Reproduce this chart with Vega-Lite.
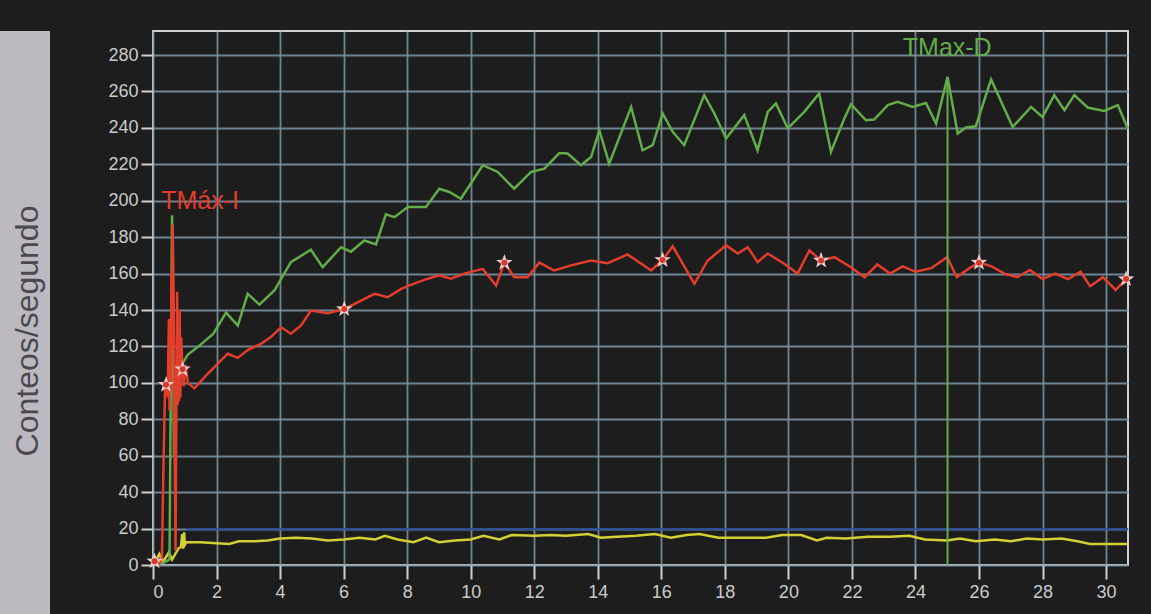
{
  "$schema": "https://vega.github.io/schema/vega-lite/v6.json",
  "background": "#1c1d1c",
  "padding": {"left": 0, "top": 0, "right": 15, "bottom": 0},
  "spacing": 0,
  "config": {"font": "Liberation Sans", "concat": {"spacing": 0}, "axis": {"labelOverlap": false}},
  "datasets": {
    "umbral": [
      {"t": 1.05, "cps": 19.6, "serie": "Umbral"},
      {"t": 30.69, "cps": 19.6, "serie": "Umbral"}
    ],
    "fondo": [
      {"t": 0.0, "cps": 1, "serie": "Fondo"}, {"t": 0.1, "cps": 3, "serie": "Fondo"}, {"t": 0.2, "cps": 6, "serie": "Fondo"},
      {"t": 0.3, "cps": 2, "serie": "Fondo"}, {"t": 0.4, "cps": 4, "serie": "Fondo"}, {"t": 0.5, "cps": 7, "serie": "Fondo"},
      {"t": 0.6, "cps": 3, "serie": "Fondo"}, {"t": 0.7, "cps": 6, "serie": "Fondo"}, {"t": 0.8, "cps": 9, "serie": "Fondo"},
      {"t": 0.88, "cps": 10, "serie": "Fondo"}, {"t": 0.92, "cps": 17, "serie": "Fondo"}, {"t": 0.95, "cps": 9, "serie": "Fondo"},
      {"t": 0.98, "cps": 18, "serie": "Fondo"}, {"t": 1.0, "cps": 11, "serie": "Fondo"}, {"t": 1.05, "cps": 12.5, "serie": "Fondo"},
      {"t": 1.5, "cps": 12.5, "serie": "Fondo"}, {"t": 2.0, "cps": 12, "serie": "Fondo"}, {"t": 2.4, "cps": 11.5, "serie": "Fondo"},
      {"t": 2.7, "cps": 13, "serie": "Fondo"}, {"t": 3.2, "cps": 13, "serie": "Fondo"}, {"t": 3.6, "cps": 13.5, "serie": "Fondo"},
      {"t": 4.0, "cps": 14.5, "serie": "Fondo"}, {"t": 4.5, "cps": 15, "serie": "Fondo"}, {"t": 5.0, "cps": 14.5, "serie": "Fondo"},
      {"t": 5.5, "cps": 13.5, "serie": "Fondo"}, {"t": 6.0, "cps": 14, "serie": "Fondo"}, {"t": 6.5, "cps": 15, "serie": "Fondo"},
      {"t": 7.0, "cps": 14, "serie": "Fondo"}, {"t": 7.3, "cps": 16, "serie": "Fondo"}, {"t": 7.7, "cps": 14, "serie": "Fondo"},
      {"t": 8.2, "cps": 12.5, "serie": "Fondo"}, {"t": 8.6, "cps": 15, "serie": "Fondo"}, {"t": 9.0, "cps": 12.5, "serie": "Fondo"},
      {"t": 9.5, "cps": 13.5, "serie": "Fondo"}, {"t": 10.0, "cps": 14, "serie": "Fondo"}, {"t": 10.4, "cps": 16, "serie": "Fondo"},
      {"t": 10.9, "cps": 14, "serie": "Fondo"}, {"t": 11.3, "cps": 16.5, "serie": "Fondo"}, {"t": 12.0, "cps": 16, "serie": "Fondo"},
      {"t": 12.5, "cps": 16.5, "serie": "Fondo"}, {"t": 13.0, "cps": 16, "serie": "Fondo"}, {"t": 13.7, "cps": 17, "serie": "Fondo"},
      {"t": 14.1, "cps": 15, "serie": "Fondo"}, {"t": 14.6, "cps": 15.5, "serie": "Fondo"}, {"t": 15.2, "cps": 16, "serie": "Fondo"},
      {"t": 15.8, "cps": 17, "serie": "Fondo"}, {"t": 16.3, "cps": 15, "serie": "Fondo"}, {"t": 16.8, "cps": 16.5, "serie": "Fondo"},
      {"t": 17.2, "cps": 17, "serie": "Fondo"}, {"t": 17.8, "cps": 15, "serie": "Fondo"}, {"t": 18.5, "cps": 15, "serie": "Fondo"},
      {"t": 19.3, "cps": 15, "serie": "Fondo"}, {"t": 19.8, "cps": 16.5, "serie": "Fondo"}, {"t": 20.4, "cps": 16.5, "serie": "Fondo"},
      {"t": 20.9, "cps": 13.5, "serie": "Fondo"}, {"t": 21.2, "cps": 15, "serie": "Fondo"}, {"t": 21.8, "cps": 14.5, "serie": "Fondo"},
      {"t": 22.5, "cps": 15.5, "serie": "Fondo"}, {"t": 23.2, "cps": 15.5, "serie": "Fondo"}, {"t": 23.8, "cps": 16, "serie": "Fondo"},
      {"t": 24.3, "cps": 14, "serie": "Fondo"}, {"t": 25.0, "cps": 13.5, "serie": "Fondo"}, {"t": 25.4, "cps": 14.5, "serie": "Fondo"},
      {"t": 25.9, "cps": 13, "serie": "Fondo"}, {"t": 26.5, "cps": 14, "serie": "Fondo"}, {"t": 27.0, "cps": 13, "serie": "Fondo"},
      {"t": 27.5, "cps": 14.5, "serie": "Fondo"}, {"t": 28.0, "cps": 14, "serie": "Fondo"}, {"t": 28.6, "cps": 14.5, "serie": "Fondo"},
      {"t": 29.1, "cps": 13, "serie": "Fondo"}, {"t": 29.5, "cps": 11.5, "serie": "Fondo"}, {"t": 30.0, "cps": 11.5, "serie": "Fondo"},
      {"t": 30.69, "cps": 11.5, "serie": "Fondo"}
    ],
    "derecho": [
      {"t": 0.0, "cps": 1, "serie": "Derecho"}, {"t": 0.3, "cps": 1, "serie": "Derecho"}, {"t": 0.52, "cps": 3, "serie": "Derecho"},
      {"t": 0.6, "cps": 192, "serie": "Derecho"}, {"t": 0.66, "cps": 60, "serie": "Derecho"}, {"t": 0.72, "cps": 100, "serie": "Derecho"},
      {"t": 0.8, "cps": 118, "serie": "Derecho"}, {"t": 0.9, "cps": 110, "serie": "Derecho"}, {"t": 1.1, "cps": 115.5, "serie": "Derecho"},
      {"t": 1.5, "cps": 121, "serie": "Derecho"}, {"t": 1.9, "cps": 127, "serie": "Derecho"}, {"t": 2.3, "cps": 138.6, "serie": "Derecho"},
      {"t": 2.67, "cps": 131.5, "serie": "Derecho"}, {"t": 2.98, "cps": 148.9, "serie": "Derecho"}, {"t": 3.35, "cps": 143, "serie": "Derecho"},
      {"t": 3.82, "cps": 150.7, "serie": "Derecho"}, {"t": 4.34, "cps": 166.3, "serie": "Derecho"}, {"t": 4.97, "cps": 173.1, "serie": "Derecho"},
      {"t": 5.34, "cps": 163.5, "serie": "Derecho"}, {"t": 5.92, "cps": 174.5, "serie": "Derecho"}, {"t": 6.23, "cps": 172, "serie": "Derecho"},
      {"t": 6.65, "cps": 178.2, "serie": "Derecho"}, {"t": 7.02, "cps": 176, "serie": "Derecho"}, {"t": 7.33, "cps": 192.5, "serie": "Derecho"},
      {"t": 7.6, "cps": 191, "serie": "Derecho"}, {"t": 8.02, "cps": 196.5, "serie": "Derecho"}, {"t": 8.59, "cps": 196.5, "serie": "Derecho"},
      {"t": 9.01, "cps": 206.6, "serie": "Derecho"}, {"t": 9.33, "cps": 204.8, "serie": "Derecho"}, {"t": 9.69, "cps": 201.1, "serie": "Derecho"},
      {"t": 10.38, "cps": 219.5, "serie": "Derecho"}, {"t": 10.85, "cps": 215.8, "serie": "Derecho"}, {"t": 11.37, "cps": 206.6, "serie": "Derecho"},
      {"t": 11.9, "cps": 215.8, "serie": "Derecho"}, {"t": 12.32, "cps": 217.6, "serie": "Derecho"}, {"t": 12.79, "cps": 226.2, "serie": "Derecho"},
      {"t": 13.05, "cps": 225.9, "serie": "Derecho"}, {"t": 13.47, "cps": 219.5, "serie": "Derecho"}, {"t": 13.79, "cps": 224, "serie": "Derecho"},
      {"t": 14.05, "cps": 238.7, "serie": "Derecho"}, {"t": 14.36, "cps": 220.4, "serie": "Derecho"}, {"t": 15.05, "cps": 251.5, "serie": "Derecho"},
      {"t": 15.41, "cps": 227.7, "serie": "Derecho"}, {"t": 15.73, "cps": 230.5, "serie": "Derecho"}, {"t": 16.04, "cps": 247.9, "serie": "Derecho"},
      {"t": 16.36, "cps": 237.8, "serie": "Derecho"}, {"t": 16.72, "cps": 230.5, "serie": "Derecho"}, {"t": 17.35, "cps": 258, "serie": "Derecho"},
      {"t": 17.67, "cps": 247.9, "serie": "Derecho"}, {"t": 18.04, "cps": 234.2, "serie": "Derecho"}, {"t": 18.61, "cps": 247, "serie": "Derecho"},
      {"t": 19.03, "cps": 227.7, "serie": "Derecho"}, {"t": 19.35, "cps": 248.8, "serie": "Derecho"}, {"t": 19.61, "cps": 253.4, "serie": "Derecho"},
      {"t": 19.98, "cps": 239.7, "serie": "Derecho"}, {"t": 20.5, "cps": 248.8, "serie": "Derecho"}, {"t": 20.97, "cps": 258.9, "serie": "Derecho"},
      {"t": 21.34, "cps": 226.8, "serie": "Derecho"}, {"t": 21.76, "cps": 245.2, "serie": "Derecho"}, {"t": 21.97, "cps": 253, "serie": "Derecho"},
      {"t": 22.44, "cps": 244.2, "serie": "Derecho"}, {"t": 22.7, "cps": 244.6, "serie": "Derecho"}, {"t": 23.13, "cps": 252.5, "serie": "Derecho"},
      {"t": 23.44, "cps": 254.3, "serie": "Derecho"}, {"t": 23.91, "cps": 251.5, "serie": "Derecho"}, {"t": 24.33, "cps": 253.7, "serie": "Derecho"},
      {"t": 24.65, "cps": 242.4, "serie": "Derecho"}, {"t": 25.01, "cps": 268, "serie": "Derecho"}, {"t": 25.33, "cps": 236.9, "serie": "Derecho"},
      {"t": 25.59, "cps": 240.2, "serie": "Derecho"}, {"t": 25.9, "cps": 240.9, "serie": "Derecho"}, {"t": 26.38, "cps": 266.6, "serie": "Derecho"},
      {"t": 27.06, "cps": 240.5, "serie": "Derecho"}, {"t": 27.64, "cps": 251.5, "serie": "Derecho"}, {"t": 28.0, "cps": 246, "serie": "Derecho"},
      {"t": 28.37, "cps": 258, "serie": "Derecho"}, {"t": 28.69, "cps": 249.7, "serie": "Derecho"}, {"t": 29.0, "cps": 258, "serie": "Derecho"},
      {"t": 29.42, "cps": 251.2, "serie": "Derecho"}, {"t": 29.94, "cps": 249.3, "serie": "Derecho"}, {"t": 30.37, "cps": 252.5, "serie": "Derecho"},
      {"t": 30.68, "cps": 239.7, "serie": "Derecho"}
    ],
    "izquierdo": [
      {"t": 0.0, "cps": 2, "serie": "Izquierdo"}, {"t": 0.1, "cps": 3, "serie": "Izquierdo"}, {"t": 0.2, "cps": 1, "serie": "Izquierdo"},
      {"t": 0.28, "cps": 4, "serie": "Izquierdo"}, {"t": 0.33, "cps": 55, "serie": "Izquierdo"}, {"t": 0.38, "cps": 98, "serie": "Izquierdo"},
      {"t": 0.42, "cps": 100, "serie": "Izquierdo"}, {"t": 0.46, "cps": 92, "serie": "Izquierdo"}, {"t": 0.5, "cps": 135, "serie": "Izquierdo"},
      {"t": 0.52, "cps": 85, "serie": "Izquierdo"}, {"t": 0.54, "cps": 120, "serie": "Izquierdo"}, {"t": 0.56, "cps": 95, "serie": "Izquierdo"},
      {"t": 0.58, "cps": 160, "serie": "Izquierdo"}, {"t": 0.6, "cps": 120, "serie": "Izquierdo"}, {"t": 0.62, "cps": 187, "serie": "Izquierdo"},
      {"t": 0.65, "cps": 150, "serie": "Izquierdo"}, {"t": 0.68, "cps": 60, "serie": "Izquierdo"}, {"t": 0.71, "cps": 8, "serie": "Izquierdo"},
      {"t": 0.74, "cps": 95, "serie": "Izquierdo"}, {"t": 0.76, "cps": 150, "serie": "Izquierdo"}, {"t": 0.78, "cps": 88, "serie": "Izquierdo"},
      {"t": 0.8, "cps": 130, "serie": "Izquierdo"}, {"t": 0.82, "cps": 90, "serie": "Izquierdo"},
      {"t": 0.84, "cps": 140, "serie": "Izquierdo"}, {"t": 0.86, "cps": 92, "serie": "Izquierdo"}, {"t": 0.89, "cps": 125, "serie": "Izquierdo"},
      {"t": 0.93, "cps": 107, "serie": "Izquierdo"}, {"t": 0.97, "cps": 98, "serie": "Izquierdo"}, {"t": 1.02, "cps": 110, "serie": "Izquierdo"},
      {"t": 1.1, "cps": 100, "serie": "Izquierdo"}, {"t": 1.3, "cps": 97, "serie": "Izquierdo"}, {"t": 1.51, "cps": 101, "serie": "Izquierdo"},
      {"t": 1.72, "cps": 105, "serie": "Izquierdo"}, {"t": 1.98, "cps": 109.5, "serie": "Izquierdo"}, {"t": 2.35, "cps": 116, "serie": "Izquierdo"},
      {"t": 2.67, "cps": 113.7, "serie": "Izquierdo"}, {"t": 2.98, "cps": 118, "serie": "Izquierdo"}, {"t": 3.4, "cps": 121.4, "serie": "Izquierdo"},
      {"t": 3.7, "cps": 125, "serie": "Izquierdo"}, {"t": 4.03, "cps": 130.5, "serie": "Izquierdo"}, {"t": 4.34, "cps": 127, "serie": "Izquierdo"},
      {"t": 4.66, "cps": 131.5, "serie": "Izquierdo"}, {"t": 4.97, "cps": 139.7, "serie": "Izquierdo"}, {"t": 5.5, "cps": 138.2, "serie": "Izquierdo"},
      {"t": 6.02, "cps": 140.5, "serie": "Izquierdo"}, {"t": 6.55, "cps": 145.2, "serie": "Izquierdo"}, {"t": 6.97, "cps": 148.9, "serie": "Izquierdo"},
      {"t": 7.39, "cps": 147, "serie": "Izquierdo"}, {"t": 7.81, "cps": 151.6, "serie": "Izquierdo"}, {"t": 8.07, "cps": 153.5, "serie": "Izquierdo"},
      {"t": 8.65, "cps": 157.2, "serie": "Izquierdo"}, {"t": 9.01, "cps": 159, "serie": "Izquierdo"}, {"t": 9.38, "cps": 157.2, "serie": "Izquierdo"},
      {"t": 9.8, "cps": 160, "serie": "Izquierdo"}, {"t": 10.38, "cps": 162.6, "serie": "Izquierdo"}, {"t": 10.8, "cps": 153.5, "serie": "Izquierdo"},
      {"t": 11.06, "cps": 166, "serie": "Izquierdo"}, {"t": 11.37, "cps": 158, "serie": "Izquierdo"}, {"t": 11.79, "cps": 158, "serie": "Izquierdo"},
      {"t": 12.16, "cps": 166, "serie": "Izquierdo"}, {"t": 12.63, "cps": 161.7, "serie": "Izquierdo"}, {"t": 13.16, "cps": 164.5, "serie": "Izquierdo"},
      {"t": 13.79, "cps": 167.2, "serie": "Izquierdo"}, {"t": 14.31, "cps": 165.7, "serie": "Izquierdo"}, {"t": 14.94, "cps": 170.5, "serie": "Izquierdo"},
      {"t": 15.68, "cps": 161.7, "serie": "Izquierdo"}, {"t": 16.04, "cps": 167.5, "serie": "Izquierdo"}, {"t": 16.36, "cps": 175, "serie": "Izquierdo"},
      {"t": 17.04, "cps": 154.4, "serie": "Izquierdo"}, {"t": 17.46, "cps": 167.2, "serie": "Izquierdo"}, {"t": 18.04, "cps": 175.5, "serie": "Izquierdo"},
      {"t": 18.41, "cps": 171, "serie": "Izquierdo"}, {"t": 18.72, "cps": 174.5, "serie": "Izquierdo"}, {"t": 19.03, "cps": 166.3, "serie": "Izquierdo"},
      {"t": 19.35, "cps": 171, "serie": "Izquierdo"}, {"t": 19.87, "cps": 165.4, "serie": "Izquierdo"}, {"t": 20.29, "cps": 160, "serie": "Izquierdo"},
      {"t": 20.66, "cps": 172.7, "serie": "Izquierdo"}, {"t": 21.03, "cps": 167.2, "serie": "Izquierdo"}, {"t": 21.45, "cps": 169, "serie": "Izquierdo"},
      {"t": 21.97, "cps": 163.5, "serie": "Izquierdo"}, {"t": 22.4, "cps": 158, "serie": "Izquierdo"}, {"t": 22.8, "cps": 165, "serie": "Izquierdo"},
      {"t": 23.2, "cps": 160, "serie": "Izquierdo"}, {"t": 23.6, "cps": 164, "serie": "Izquierdo"}, {"t": 24.0, "cps": 161, "serie": "Izquierdo"},
      {"t": 24.5, "cps": 163, "serie": "Izquierdo"}, {"t": 25.0, "cps": 169, "serie": "Izquierdo"}, {"t": 25.3, "cps": 158, "serie": "Izquierdo"},
      {"t": 25.7, "cps": 163, "serie": "Izquierdo"}, {"t": 26.0, "cps": 166, "serie": "Izquierdo"}, {"t": 26.4, "cps": 164, "serie": "Izquierdo"},
      {"t": 26.8, "cps": 160, "serie": "Izquierdo"}, {"t": 27.2, "cps": 158, "serie": "Izquierdo"}, {"t": 27.6, "cps": 162, "serie": "Izquierdo"},
      {"t": 28.0, "cps": 157, "serie": "Izquierdo"}, {"t": 28.4, "cps": 160, "serie": "Izquierdo"}, {"t": 28.8, "cps": 157, "serie": "Izquierdo"},
      {"t": 29.2, "cps": 161, "serie": "Izquierdo"}, {"t": 29.5, "cps": 153, "serie": "Izquierdo"}, {"t": 29.9, "cps": 158, "serie": "Izquierdo"},
      {"t": 30.3, "cps": 151, "serie": "Izquierdo"}, {"t": 30.63, "cps": 157, "serie": "Izquierdo"}
    ],
    "marcas": [
      {"t": 0.05, "cps": 2}, {"t": 0.41, "cps": 99}, {"t": 0.93, "cps": 107.5}, {"t": 6.02, "cps": 140.5},
      {"t": 11.06, "cps": 166}, {"t": 16.04, "cps": 167.5}, {"t": 21.03, "cps": 167.2}, {"t": 26.0, "cps": 166}, {"t": 30.63, "cps": 157}
    ],
    "tmax": [
      {"t": 25.01, "cps": 268, "serie": "Derecho"}
    ],
    "etiquetas": [
      {"t": 1.48, "cps": 200, "texto": "TMáx-I", "serie": "Izquierdo"},
      {"t": 25.0, "cps": 284, "texto": "TMax-D", "serie": "Derecho"}
    ]
  },
  "hconcat": [
    {
      "width": 50,
      "height": 584,
      "view": {"fill": "#bcb9c1", "stroke": null},
      "data": {"values": [{"titulo": "Conteos/segundo"}]},
      "mark": {"type": "text", "angle": 270, "fontSize": 32, "color": "#4b4950", "font": "Liberation Sans", "align": "center", "baseline": "middle", "dx": -8, "dy": 3},
      "encoding": {"text": {"field": "titulo", "type": "nominal"}}
    },
    {
      "width": 975,
      "height": 534,
      "view": {"fill": "#1c1d1c", "stroke": "#d0d0d0", "strokeWidth": 2},
      "resolve": {"axis": {"x": "independent"}},
      "layer": [
        {
          "data": {"name": "umbral"},
          "mark": {"type": "line", "strokeWidth": 2},
          "encoding": {
            "x": {
              "field": "t", "type": "quantitative",
              "scale": {"domain": [0, 30.69], "nice": false, "zero": false},
              "axis": {
                "orient": "bottom",
                "title": null, "values": [0, 2, 4, 6, 8, 10, 12, 14, 16, 18, 20, 22, 24, 26, 28, 30], "tickCount": 31,
                "domain": false, "tickSize": 14, "tickWidth": 2, "tickColor": "#cfcfcf",
                "labelColor": "#cbcbcb", "labelFontSize": 18, "labelPadding": 4, "labelFont": "Liberation Sans", "labelOverlap": false,
                "grid": true, "gridColor": "#7d97a8", "gridWidth": 1.8, "gridOpacity": 0.85
              }
            },
            "y": {
              "field": "cps", "type": "quantitative",
              "scale": {"domain": [0, 293.2], "nice": false, "zero": true},
              "axis": {
                "title": null, "values": [0, 20, 40, 60, 80, 100, 120, 140, 160, 180, 200, 220, 240, 260, 280], "tickCount": 30,
                "domain": false, "tickSize": 12, "tickWidth": 2, "tickColor": "#cfcfcf",
                "labelColor": "#cbcbcb", "labelFontSize": 18, "labelPadding": 3, "labelFont": "Liberation Sans", "labelOverlap": false,
                "grid": true, "gridColor": "#7d97a8", "gridWidth": 1.8, "gridOpacity": 0.85,
                "minExtent": 102
              }
            },
            "color": {
              "field": "serie", "type": "nominal", "legend": null,
              "scale": {"domain": ["Izquierdo", "Derecho", "Fondo", "Umbral"], "range": ["#e33d2b", "#62ad4a", "#d4cf32", "#2d4f9e"]}
            }
          }
        },
        {
          "data": {"name": "fondo"},
          "mark": {"type": "line", "strokeWidth": 2.5},
          "encoding": {
            "x": {"field": "t", "type": "quantitative", "axis": null},
            "y": {"field": "cps", "type": "quantitative"},
            "color": {"field": "serie", "type": "nominal", "legend": null}
          }
        },
        {
          "data": {"name": "derecho"},
          "mark": {"type": "line", "strokeWidth": 2.5},
          "encoding": {
            "x": {"field": "t", "type": "quantitative", "axis": null},
            "y": {"field": "cps", "type": "quantitative"},
            "color": {"field": "serie", "type": "nominal", "legend": null}
          }
        },
        {
          "data": {"name": "izquierdo"},
          "mark": {"type": "line", "strokeWidth": 2.5},
          "encoding": {
            "x": {"field": "t", "type": "quantitative", "axis": null},
            "y": {"field": "cps", "type": "quantitative"},
            "color": {"field": "serie", "type": "nominal", "legend": null}
          }
        },
        {
          "data": {"name": "tmax"},
          "mark": {"type": "rule", "strokeWidth": 2},
          "encoding": {
            "x": {
              "field": "t", "type": "quantitative",
              "axis": {"orient": "top", "title": null, "labels": false, "ticks": false, "domain": false, "grid": false, "minExtent": 30, "maxExtent": 30}
            },
            "y": {"field": "cps", "type": "quantitative"},
            "y2": {"datum": 0},
            "color": {"field": "serie", "type": "nominal", "legend": null}
          }
        },
        {
          "data": {"name": "marcas"},
          "mark": {"type": "point", "filled": true, "color": "#f2cdcd", "opacity": 1, "size": 300,
                   "shape": "M0,-1L0.235,-0.324L0.951,-0.309L0.38,0.124L0.588,0.809L0,0.4L-0.588,0.809L-0.38,0.124L-0.951,-0.309L-0.235,-0.324Z"},
          "encoding": {
            "x": {"field": "t", "type": "quantitative", "axis": null},
            "y": {"field": "cps", "type": "quantitative"}
          }
        },
        {
          "data": {"name": "marcas"},
          "mark": {"type": "point", "filled": true, "color": "#d8372a", "opacity": 1, "size": 36, "shape": "circle"},
          "encoding": {
            "x": {"field": "t", "type": "quantitative", "axis": null},
            "y": {"field": "cps", "type": "quantitative"}
          }
        },
        {
          "data": {"name": "etiquetas"},
          "mark": {"type": "text", "fontSize": 25, "font": "Liberation Sans", "align": "center", "baseline": "middle"},
          "encoding": {
            "x": {"field": "t", "type": "quantitative", "axis": null},
            "y": {"field": "cps", "type": "quantitative"},
            "text": {"field": "texto", "type": "nominal"},
            "color": {"field": "serie", "type": "nominal", "legend": null}
          }
        }
      ]
    }
  ]
}
